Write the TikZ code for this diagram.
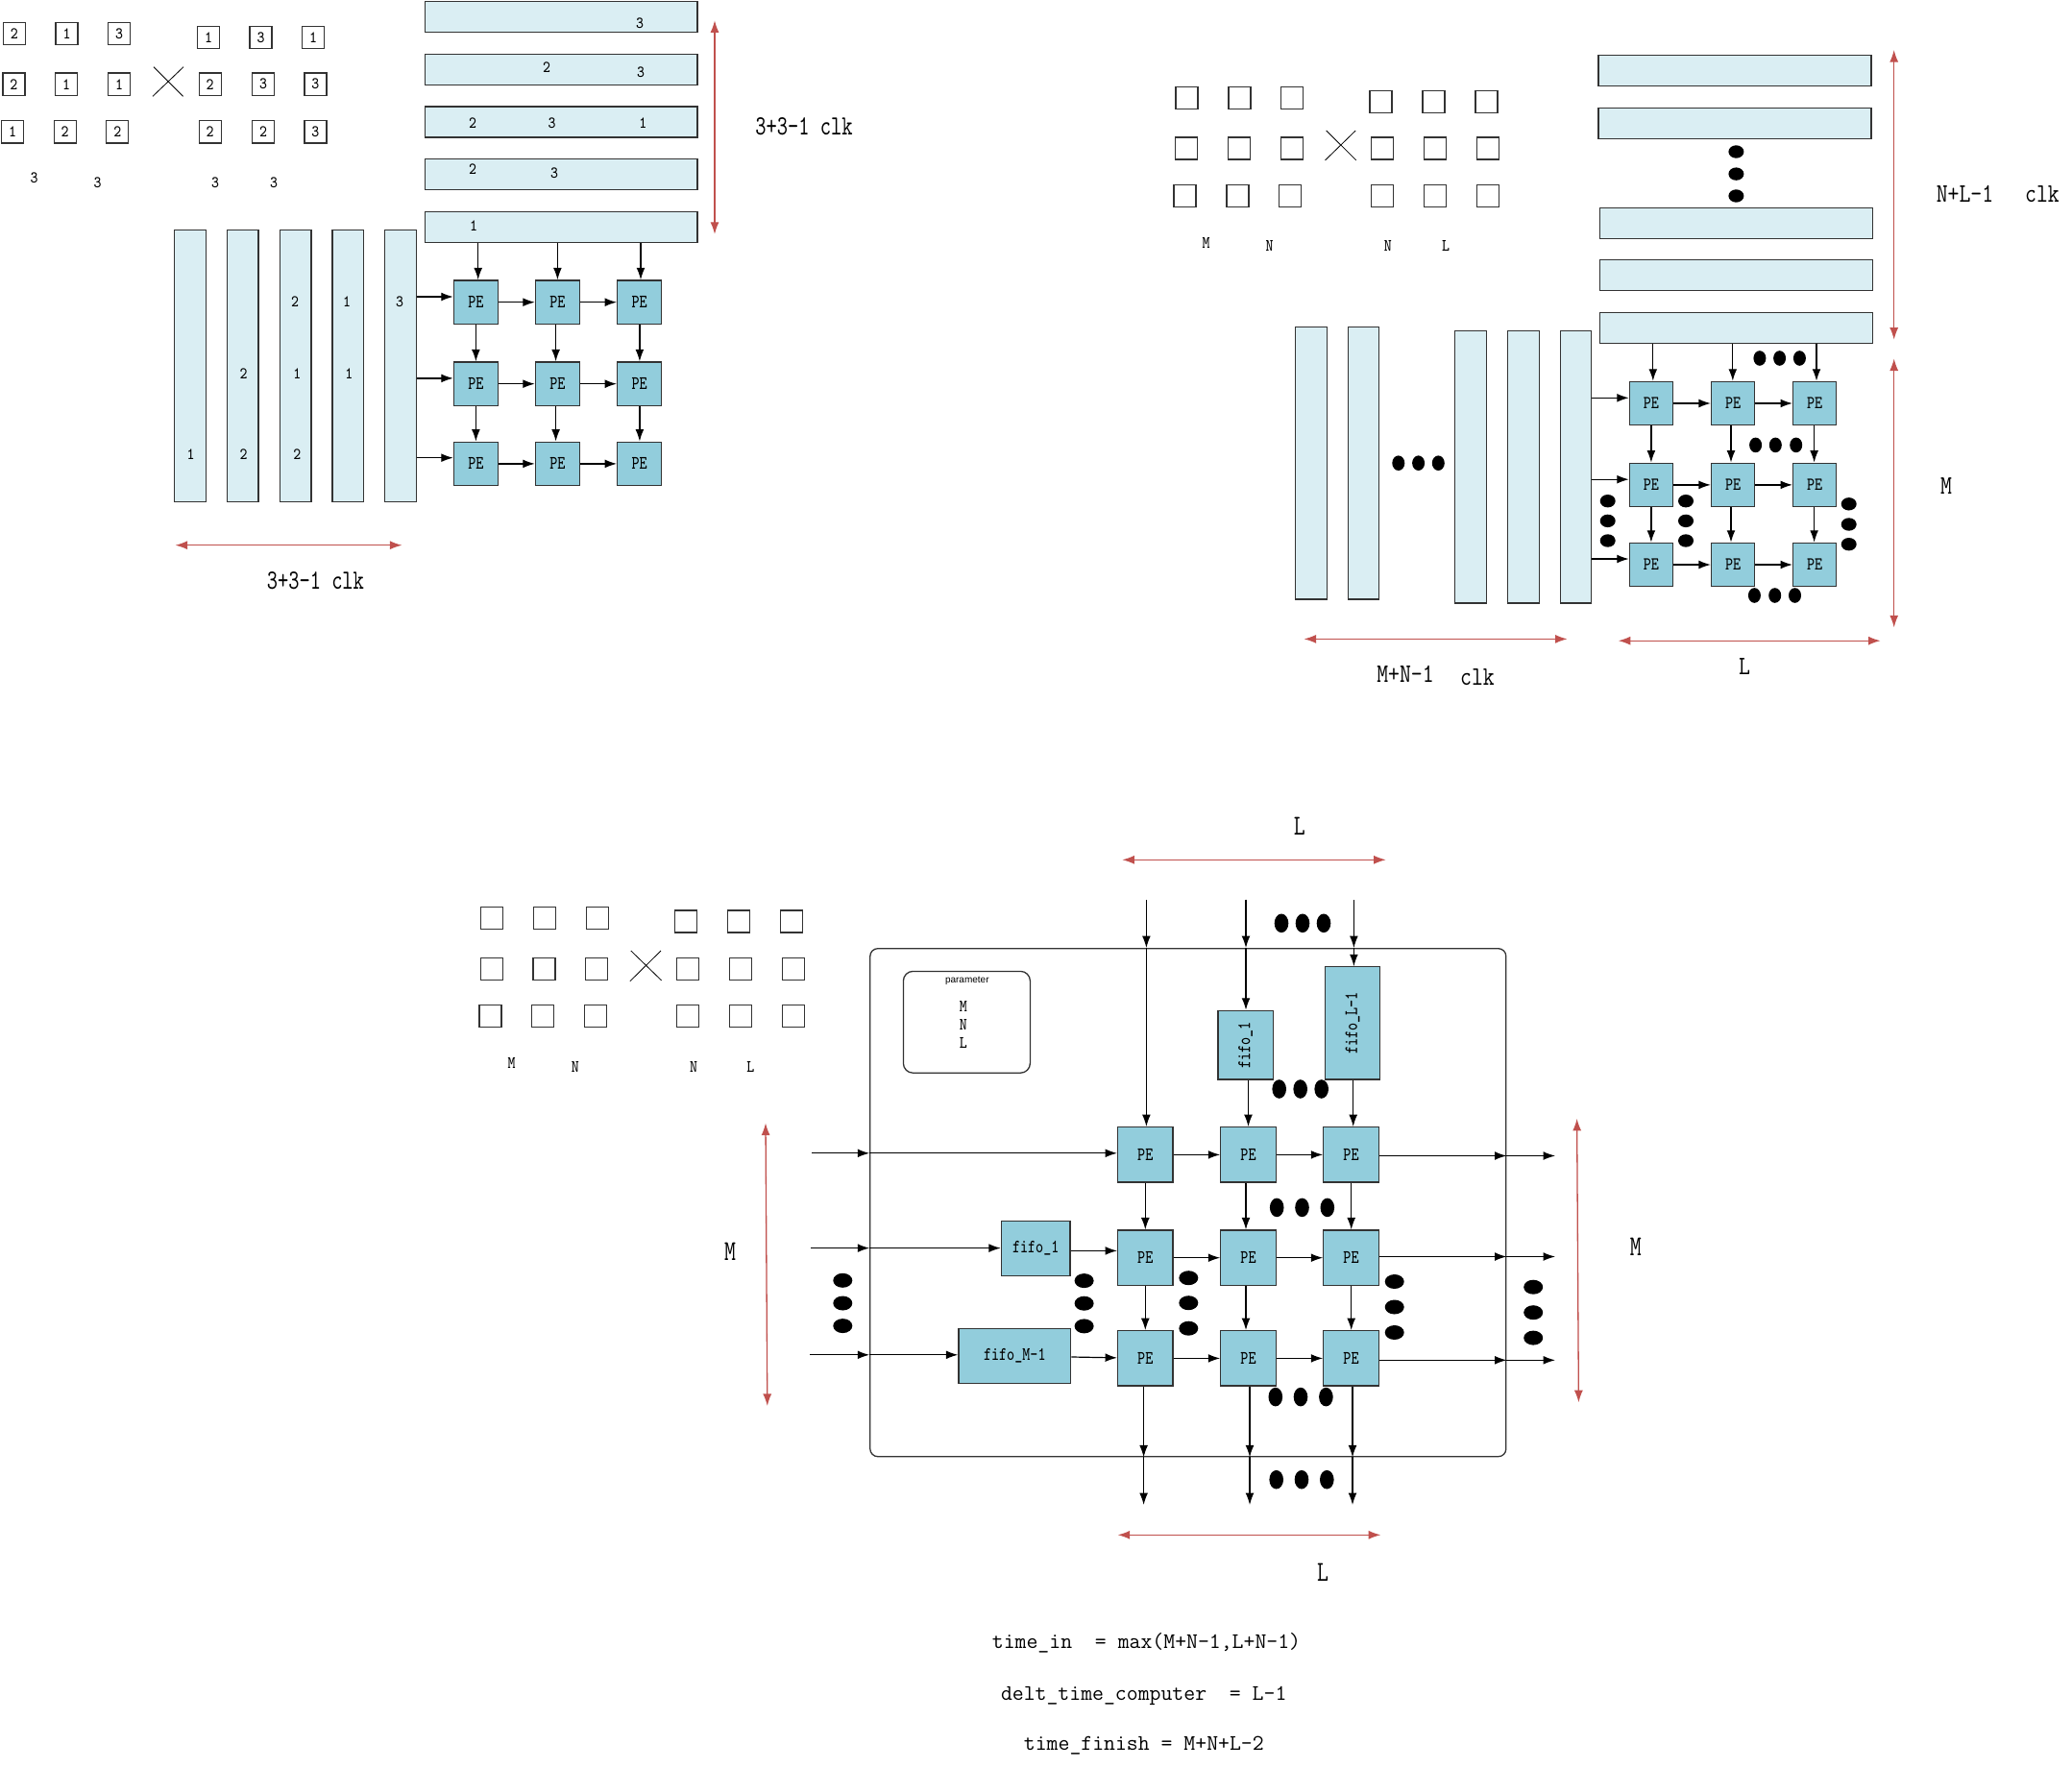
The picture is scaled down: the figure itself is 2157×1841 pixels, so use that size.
\documentclass[tikz,border=0pt]{standalone}
\usepackage{fontspec}
\setsansfont{Liberation Sans}
\usetikzlibrary{arrows.meta,positioning}
\def\tall#1#2{\scalebox{1}[#1]{#2}}
\definecolor{barblue}{HTML}{DAEEF3}
\definecolor{peblue}{HTML}{92CDDC}
\definecolor{spanred}{HTML}{C0504D}
\tikzset{
  outline/.style={draw=black!80,line width=0.65pt},
  hbar/.style={outline,fill=barblue,minimum width=#1,minimum height=16pt,inner sep=0pt},
  vbar/.style={outline,fill=barblue,minimum width=16.3pt,minimum height=#1,inner sep=0pt},
  pebox/.style={outline,fill=peblue,inner sep=0pt,font=\ttfamily\fontsize{7.6}{8}\selectfont},
  cell/.style={outline,minimum width=11.5pt,minimum height=#1,inner sep=0pt,font=\ttfamily\fontsize{7.5}{8}\selectfont},
  tag/.style={inner sep=0pt,font=\ttfamily\fontsize{7.5}{8}\selectfont},
  note/.style={inner sep=0pt,font=\ttfamily\fontsize{11.55}{12}\selectfont},
  flow/.style={black,line width=0.6pt,-{Latex[length=6.2pt,width=4.4pt]}},
  span/.style={spanred,line width=0.65pt,{Latex[length=6.3pt,width=4.5pt]}-{Latex[length=6.3pt,width=4.5pt]}}
}

\begin{document}
\begin{tikzpicture}[x=0.5pt,y=-0.5pt]
      \useasboundingbox (0,0) rectangle (2157,1841);

      % ---- first picture, 3 by 3 by 3
      \foreach \r/\y/\xa/\xb/\xc/\ta/\tb/\tc in
      {
        pa/35.1/14.9/69.5/124/2/1/3,
        pb/87.7/14.4/69/124/2/1/1,
        pc/137.2/13.2/67.7/122.3/1/2/2,
        qa/39.1/217/271.5/326/1/3/1,
        qb/87.7/218.7/274/328.4/2/3/3,
        qc/137.2/218.7/274/328.4/2/2/3%
      }
      {
       \node[cell=11.7pt] (\r1) at (\xa,\y) {\tall{1.15}{\ta}};
       \node[cell=11.7pt] (\r2) at (\xb,\y) {\tall{1.15}{\tb}};
       \node[cell=11.7pt] (\r3) at (\xc,\y) {\tall{1.15}{\tc}};
      }
      \draw[line width=0.4pt] (160,69.7) -- (190.6,100.3) (191,69.7) -- (159,100.3);
      \foreach \name/\x/\y in {ta/35.6/185.6,tb/101.6/189.8,tc/224/189.8,td/285/189.8}
       \node[tag] (\name) at (\x,\y) {\tall{1.15}{3}};

      \foreach \name/\y in {ha/17.4,hb/72.2,hc/126.9,hd/181.8,he/236.5}
       \node[hbar=141.7pt] (\name) at (584.3,\y) {};
      \foreach \name/\x in {va/198,vb/252.6,vc/307.7,vd/362.2,ve/417}
       \node[vbar=141.6pt] (\name) at (\x,380.8) {};
      \foreach \name/\x/\y/\txt in
      {
        ga/666/24.5/3, gb/569/70.6/2, gc/667/75.4/3, gd/492/127.8/2, ge/574.6/127.8/3,
        gf/669.3/127.8/1, gg/492/176.3/2, gh/577/180.4/3, gi/493/235.3/1,
        gj/198.6/472.7/1, gk/253.7/389.6/2, gl/253.7/472.7/2, gm/307/314.3/2, gn/309.4/389.6/1,
        go/309.4/472.7/2, gp/361/314.3/1, gq/363.4/389.6/1, gr/416/314.3/3%
      }
       \node[tag] (\name) at (\x,\y) {\tall{1.15}{\txt}};

      \foreach \r/\y in {1/314.7,2/399.7,3/482.9}
       \foreach \c/\x in {1/495.4,2/580.4,3/665.7}
        \node[pebox,minimum width=23pt,minimum height=22.75pt] (a\r\c) at (\x,\y) {\tall{1.3}{PE}};
      \foreach \r/\y in {1/309,2/393.9,3/476.7}
       \draw[flow] (ve.east |- 0,\y) -- (a\r1.west |- 0,\y);
      \foreach \c/\x in {1/497.7,2/580.4,3/667}
       \draw[flow] (he.south -| \x,0) -- (a1\c.north -| \x,0);
      \foreach \r in {1,2,3}
      {
       \draw[flow] (a\r1) -- (a\r2);
       \draw[flow] (a\r2) -- (a\r3);
      }
      \foreach \c/\x in {1/495.4,2/578.6,3/665.9}
      {
       \draw[flow] (a1\c.south -| \x,0) -- (a2\c.north -| \x,0);
       \draw[flow] (a2\c.south -| \x,0) -- (a3\c.north -| \x,0);
      }
      \coordinate (aup) at (744,21.3);
      \coordinate (adown) at (744,243.9);
      \coordinate (aleft) at (182.5,567.7);
      \coordinate (aright) at (418.5,567.7);
      \draw[span] (aup) -- (adown);
      \draw[span] (aleft) -- (aright);
      \node[note,font=\ttfamily\fontsize{10.7}{12}\selectfont] (aclkr) at (837,131.4) {\tall{1.35}{3+3-1 clk}};
      \node[note,font=\ttfamily\fontsize{10.7}{12}\selectfont] (aclkb) at (328.4,605) {\tall{1.35}{3+3-1 clk}};

      % ---- second picture, M N L
      \foreach \r/\y/\xa/\xb/\xc in
      {
        ra/102/1235.4/1290.4/1345.3,
        rb/154.4/1234.8/1289.7/1344.7,
        rc/204/1233.6/1288.5/1342.9,
        sa/105.7/1437.5/1492.4/1547.4,
        sb/154.4/1439.3/1494.3/1549.2,
        sc/204/1439.3/1494.3/1549.2
      }
      {
       \node[cell=11.5pt] (\r1) at (\xa,\y) {};
       \node[cell=11.5pt] (\r2) at (\xb,\y) {};
       \node[cell=11.5pt] (\r3) at (\xc,\y) {};
      }
      \draw[line width=0.4pt] (1380.7,136) -- (1411.8,166.9) (1411.2,136) -- (1379.5,166.9);
      \foreach \name/\x/\y/\txt in {ua/1255.6/253.1/M,ub/1321.5/256.4/N,uc/1444.8/256.4/N,ud/1505/256.4/L}
       \node[tag] (\name) at (\x,\y) {\tall{1.2}{\txt}};

      \foreach \name/\x/\y in {ia/1806/73.6,ib/1806/128.2,ic/1807.8/232.3,id/1807.8/286.8,ie/1807.8/341.5}
       \node[hbar=142pt] (\name) at (\x,\y) {};
      \foreach \name/\x/\y in {wa/1364.9/482.3,wb/1419.5/482.3,wc/1530.9/486.1,wd/1585.9/486.1,we/1640.5/486.1}
       \node[vbar=141.8pt] (\name) at (\x,\y) {};

      \foreach \r/\y in {1/420,2/504.9,3/588}
       \foreach \c/\x in {1/1718.9,2/1804.1,3/1889.2}
        \node[pebox,minimum width=22.6pt,minimum height=22.7pt] (b\r\c) at (\x,\y) {\tall{1.25}{PE}};
      \foreach \r/\y in {1/414.3,2/499.2,3/582}
       \draw[flow] (we.east |- 0,\y) -- (b\r1.west |- 0,\y);
      \foreach \c/\x in {1/1720.8,2/1803.8,3/1891}
       \draw[flow] (ie.south -| \x,0) -- (b1\c.north -| \x,0);
      \foreach \r in {1,2,3}
      {
       \draw[flow] (b\r1) -- (b\r2);
       \draw[flow] (b\r2) -- (b\r3);
      }
      \foreach \c/\x in {1/1718.9,2/1802,3/1888.6}
      {
       \draw[flow] (b1\c.south -| \x,0) -- (b2\c.north -| \x,0);
       \draw[flow] (b2\c.south -| \x,0) -- (b3\c.north -| \x,0);
      }
      \foreach \x/\y in
      {
        1807.4/158,1807.4/181.1,1807.4/204,
        1673.7/521.7,1673.7/542.4,1673.7/563,
        1755/521.7,1755/542.4,1755/563,
        1924.7/524.8,1924.7/546,1924.7/566.7
      }
       \fill (\x,\y) ellipse (8 and 6.7);
      \foreach \x/\y in
      {
        1455.8/482.2,1476.6/482.2,1497.3/482.2,
        1831.9/373,1852.6/373,1873.4/373,
        1827.6/463.4,1848.3/463.4,1869.7/463.4,
        1826.4/620,1847.7/620,1868.5/620
      }
       \fill (\x,\y) ellipse (6.5 and 7.8);
      \coordinate (bupa) at (1971.7,52);
      \coordinate (bupb) at (1971.7,353.7);
      \coordinate (bupc) at (1971.7,373.4);
      \coordinate (bupd) at (1971.7,653.4);
      \coordinate (blefa) at (1357.5,665.4);
      \coordinate (blefb) at (1631.6,665.4);
      \coordinate (blefc) at (1684.7,667.2);
      \coordinate (blefd) at (1957.6,667.2);
      \draw[span] (bupa) -- (bupb);
      \draw[span] (bupc) -- (bupd);
      \draw[span] (blefa) -- (blefb);
      \draw[span] (blefc) -- (blefd);
      \node[note] (bnl) at (2045.5,201.7) {\tall{1.2}{N+L-1}};
      \node[note] (bclkr) at (2126,202.2) {\tall{1.2}{clk}};
      \node[note] (bm) at (2026,506) {\tall{1.2}{M}};
      \node[note] (bmn) at (1463,701.5) {\tall{1.2}{M+N-1}};
      \node[note] (bclkb) at (1538,705.3) {\tall{1.2}{clk}};
      \node[note] (bl) at (1816,694.3) {\tall{1.2}{L}};

      % ---- third picture, with fifos
      \foreach \r/\y/\xa/\xb/\xc in
      {
        ma/956/512/567/622,
        mb/1008.8/512/566.6/621,
        mc/1057.9/510.4/564.8/619.7,
        na/959.6/714/768.8/823.8,
        nb/1008.8/716.2/771/826,
        nc/1057.9/716.2/771/826
      }
      {
       \node[cell=11.5pt] (\r1) at (\xa,\y) {};
       \node[cell=11.5pt] (\r2) at (\xb,\y) {};
       \node[cell=11.5pt] (\r3) at (\xc,\y) {};
      }
      \draw[line width=0.4pt] (656.8,990) -- (688.5,1020.8) (688,990) -- (655.9,1021.7);
      \foreach \name/\x/\y/\txt in {ka/532.7/1107/M,kb/598.8/1110.5/N,kc/722/1110.5/N,kd/781.3/1110.5/L}
       \node[tag] (\name) at (\x,\y) {\tall{1.2}{\txt}};

      \node[outline,rounded corners=4pt,minimum width=331pt,minimum height=264.5pt] (chip) at (1236.8,1252.2) {};
      \node[outline,rounded corners=5pt,minimum width=66pt,minimum height=52.9pt] (param) at (1006.4,1064.3) {};
      \node[inner sep=0pt,font=\sffamily\fontsize{5}{6}\selectfont] (ptitle) at (1006.8,1021.2) {parameter};
      \foreach \name/\y/\txt in {pm/1047.6/M,pn/1066.8/N,pl/1086/L}
       \node[tag] (\name) at (1002.8,\y) {\tall{1.2}{\txt}};

      \foreach \r/\y in {1/1202.4,2/1309.7,3/1414.4}
       \foreach \c/\x in {1/1192.3,2/1299.5,3/1406.5}
        \node[pebox,minimum width=28.7pt,minimum height=28.7pt] (c\r\c) at (\x,\y) {\tall{1.3}{PE}};
      \node[pebox,minimum width=35.8pt,minimum height=28.7pt] (fifoa) at (1078.2,1300) {\tall{1.3}{fifo\_1}};
      \node[pebox,minimum width=58.4pt,minimum height=28.6pt] (fifob) at (1056.3,1411.9) {\tall{1.3}{fifo\_M-1}};
      \node[pebox,minimum width=28.7pt,minimum height=35.9pt] (fifoc) at (1296.6,1088.2) {\rotatebox{90}{\tall{1.3}{fifo\_1}}};
      \node[pebox,minimum width=28.7pt,minimum height=58.6pt] (fifod) at (1408,1065.4) {\rotatebox{90}{\tall{1.3}{fifo\_L-1}}};

      % free ends
      \foreach \name/\x/\y in
      {
        ina/845.2/1200.8,inb/844.3/1299.6,inc/843/1410.8,
        topa/1193.4/937.3,topb/1297/936.7,topc/1409.4/937.3,
        outa/1619/1203.5,outb/1619/1308.5,outc/1619/1416.3,
        dna/1190.6/1567,dnb/1301/1567,dnc/1408/1567
      }
       \coordinate (\name) at (\x,\y);

      \foreach \n in {a,b,c}
       \draw[flow] (in\n) -- (chip.west |- in\n);
      \draw[flow] (chip.west |- ina) -- (c11.west |- ina);
      \draw[flow] (chip.west |- inb) -- (fifoa.west |- inb);
      \draw[flow] (chip.west |- inc) -- (fifob.west |- inc);
      \draw[flow] (fifoa.east |- 0,1302.4) -- (c21.west |- 0,1302.4);
      \draw[flow] (fifob) -- (c31);

      \foreach \n in {a,b,c}
       \draw[flow] (top\n) -- (top\n |- chip.north);
      \draw[flow] (topa |- chip.north) -- (topa |- c11.north);
      \draw[flow] (topb |- chip.north) -- (topb |- fifoc.north);
      \draw[flow] (topc |- chip.north) -- (topc |- fifod.north);
      \draw[flow] (fifoc.south -| c12.north) -- (c12.north);
      \draw[flow] (fifod.south -| 1408.7,0) -- (c13.north -| 1408.7,0);

      \foreach \r in {1,2,3}
      {
       \draw[flow] (c\r1) -- (c\r2);
       \draw[flow] (c\r2) -- (c\r3);
      }
      \foreach \c/\x in {1/1192.3,2/1297,3/1406.7}
      {
       \draw[flow] (c1\c.south -| \x,0) -- (c2\c.north -| \x,0);
       \draw[flow] (c2\c.south -| \x,0) -- (c3\c.north -| \x,0);
      }
      \foreach \r/\n in {1/a,2/b,3/c}
      {
       \draw[flow] (c\r3.east |- out\n) -- (chip.east |- out\n);
       \draw[flow] (chip.east |- out\n) -- (out\n);
      }
      \foreach \c/\n in {1/a,2/b,3/c}
      {
       \draw[flow] (c3\c.south -| dn\n) -- (dn\n |- chip.south);
       \draw[flow] (dn\n |- chip.south) -- (dn\n);
      }

      \foreach \x/\y in
      {
        1334/961.3,1356/961.3,1378/961.3,
        1331.7/1134,1353.7/1134,1375.7/1134,
        1329.2/1257.4,1355.5/1257.4,1381.8/1257.4,
        1327.8/1454.6,1354/1454.6,1380.4/1454.6,
        1328.7/1540.7,1355/1540.7,1381.3/1540.7
      }
       \fill (\x,\y) ellipse (7.3 and 9.8);
      \foreach \x/\y in
      {
        877.3/1333.3,877.3/1357,877.3/1380.6,
        1128.6/1333.6,1128.6/1357.2,1128.6/1380.9,
        1237.3/1330.7,1237.3/1356.7,1237.3/1383.2,
        1451.7/1334.5,1451.7/1361,1451.7/1387.5,
        1596.2/1340.2,1596.2/1366.7,1596.2/1393.1
      }
       \fill (\x,\y) ellipse (10 and 7.5);

      \coordinate (cupa) at (797,1169.5);
      \coordinate (cupb) at (798.8,1464);
      \coordinate (cupc) at (1641.6,1164.8);
      \coordinate (cupd) at (1643.4,1460.3);
      \coordinate (clefa) at (1168.3,895.3);
      \coordinate (clefb) at (1442.7,895.3);
      \coordinate (clefc) at (1163.6,1598.3);
      \coordinate (clefd) at (1437.3,1598.3);
      \draw[span] (cupa) -- (cupb);
      \draw[span] (cupc) -- (cupd);
      \draw[span] (clefa) -- (clefb);
      \draw[span] (clefc) -- (clefd);
      \node[note] (cml) at (760,1303) {\tall{1.3}{M}};
      \node[note] (cmr) at (1702.9,1298.6) {\tall{1.3}{M}};
      \node[note] (clt) at (1352.7,860.7) {\tall{1.3}{L}};
      \node[note] (clb) at (1377,1637.6) {\tall{1.3}{L}};

      \node[note,anchor=west] (eqa) at (1032.5,1711) {time\_in\ \ = max(M+N-1,L+N-1)};
      \node[note,anchor=west] (eqb) at (1041.6,1765.7) {delt\_time\_computer\ \ = L-1};
      \node[note,anchor=west] (eqc) at (1065.5,1817.7) {time\_finish = M+N+L-2};

  \end{tikzpicture}
\end{document}
